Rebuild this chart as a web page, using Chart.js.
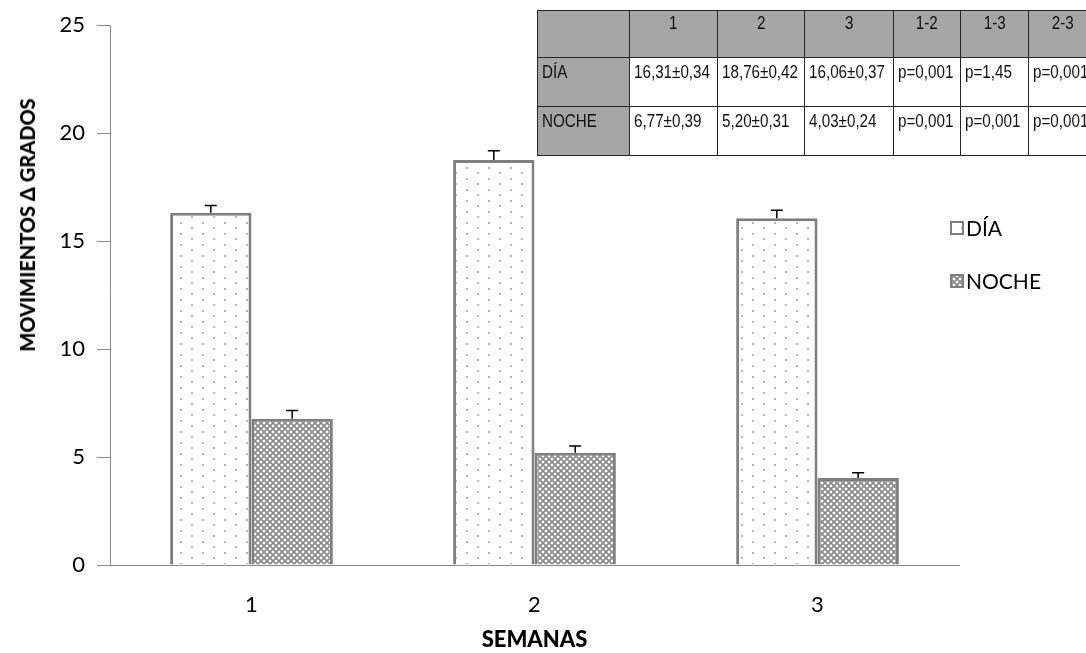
<!DOCTYPE html>
<html lang="es">
<head>
<meta charset="utf-8">
<title>Movimientos por semana</title>
<script src="https://cdn.jsdelivr.net/npm/chart.js@4/dist/chart.umd.min.js"></script>
<style>
  html, body { margin: 0; padding: 0; background: #fff; }
  #wrap { position: relative; width: 1086px; height: 653px; overflow: hidden; }
  #chart { position: absolute; left: 0; top: 0; }
  #ytitle {
    position: absolute; left: 27px; top: 225px;
    transform: translate(-50%, -50%) rotate(-90deg);
    font: 900 20px Lato, "Open Sans", sans-serif; color: #000; white-space: nowrap;
  }
  #tablebox { position: absolute; left: 537px; top: 10px; width: 570px; }
  table { border-collapse: collapse; font: 19px "Liberation Sans", Arial, sans-serif; color: #111; table-layout: fixed; }
  td { border: 1.5px solid #262626; vertical-align: top; padding: 0 0 0 4px; white-space: nowrap; background: #fff; overflow: hidden; line-height: 20px; }
  td span { display: inline-block; transform: scaleX(0.8); transform-origin: left top; }
  tr.head td { background: #a6a6a6; text-align: center; padding: 2px 0 0 0; height: 44px; }
  tr.head td span { transform-origin: center top; }
  tr.body td { padding-top: 4px; height: 44px; }
  td.rowname { background: #a6a6a6; }
</style>
</head>
<body>
<div id="wrap">
  <canvas id="chart" width="1086" height="653"></canvas>
  <div id="ytitle">MOVIMIENTOS Δ GRADOS</div>
  <div id="tablebox"><table id="stats"></table></div>
</div>
<script>
// Weeks and mean movement per period
const semanas = ['1', '2', '3'];
const dia = [16.31, 18.76, 16.06];
const noche = [6.77, 5.20, 4.03];
const diaErr = [0.34, 0.42, 0.37];
const nocheErr = [0.39, 0.31, 0.24];
const yTicks = [0, 5, 10, 15, 20, 25];

// Summary table contents
const tablaCabecera = ['', '1', '2', '3', '1-2', '1-3', '2-3'];
const pDia = ['p=0,001', 'p=1,45', 'p=0,001'];
const pNoche = ['p=0,001', 'p=0,001', 'p=0,001'];

const fmt = v => v.toFixed(2).replace('.', ',');

// Build the table from the arrays above
(function buildTable() {
  const widths = [92, 88, 87, 89, 67, 68, 68];
  const t = document.getElementById('stats');
  t.style.width = widths.reduce((a, b) => a + b, 0) + 'px';
  const cg = document.createElement('colgroup');
  widths.forEach(w => { const c = document.createElement('col'); c.style.width = w + 'px'; cg.appendChild(c); });
  t.appendChild(cg);
  const cell = (text, cls) => {
    const td = document.createElement('td');
    if (cls) td.className = cls;
    const sp = document.createElement('span'); sp.textContent = text; td.appendChild(sp);
    return td;
  };
  const head = document.createElement('tr'); head.className = 'head';
  tablaCabecera.forEach(h => head.appendChild(cell(h)));
  t.appendChild(head);
  const rows = [
    ['DÍA', dia, diaErr, pDia],
    ['NOCHE', noche, nocheErr, pNoche]
  ];
  rows.forEach(([name, vals, errs, ps]) => {
    const tr = document.createElement('tr'); tr.className = 'body';
    tr.appendChild(cell(name, 'rowname'));
    vals.forEach((v, i) => tr.appendChild(cell(fmt(v) + '±' + fmt(errs[i]))));
    ps.forEach(p => tr.appendChild(cell(p)));
    t.appendChild(tr);
  });
})();

// Fill patterns: sparse dots for day, lattice for night
function dotPattern(ctx) {
  const c = document.createElement('canvas'); c.width = 22; c.height = 11;
  const g = c.getContext('2d');
  g.fillStyle = '#ffffff'; g.fillRect(0, 0, 22, 11);
  g.fillStyle = '#a0a0a0';
  [[5, 3], [16, 8]].forEach(([x, y]) => { g.beginPath(); g.arc(x, y, 1, 0, Math.PI * 2); g.fill(); });
  return ctx.createPattern(c, 'repeat');
}
function latticePattern(ctx) {
  const s = 6;
  const c = document.createElement('canvas'); c.width = s; c.height = s;
  const g = c.getContext('2d');
  g.fillStyle = '#ffffff'; g.fillRect(0, 0, s, s);
  g.strokeStyle = '#8a8a8a'; g.lineWidth = 1.7;
  g.beginPath();
  g.moveTo(-1, -1); g.lineTo(s + 1, s + 1);
  g.moveTo(-1, s + 1); g.lineTo(s + 1, -1);
  g.stroke();
  return ctx.createPattern(c, 'repeat');
}

const ctx = document.getElementById('chart').getContext('2d');
const fillDia = dotPattern(ctx);
const fillNoche = latticePattern(ctx);

// Upward error bars with a cap
const errorBars = {
  id: 'errorBars',
  afterDatasetsDraw(chart) {
    const c = chart.ctx, y = chart.scales.y;
    const errs = [diaErr, nocheErr];
    chart.data.datasets.forEach((ds, di) => {
      const meta = chart.getDatasetMeta(di);
      meta.data.forEach((bar, i) => {
        const top = y.getPixelForValue(ds.data[i]);
        const end = y.getPixelForValue(ds.data[i] + errs[di][i]);
        c.save();
        c.strokeStyle = '#000'; c.lineWidth = 1.5;
        c.beginPath();
        c.moveTo(bar.x, top); c.lineTo(bar.x, end);
        c.moveTo(bar.x - 6, end); c.lineTo(bar.x + 6, end);
        c.stroke();
        c.restore();
      });
    });
  }
};

// Legend on the right side
const sideLegend = {
  id: 'sideLegend',
  afterDraw(chart) {
    const c = chart.ctx;
    const items = [['DÍA', fillDia, 228], ['NOCHE', fillNoche, 281]];
    c.save();
    items.forEach(([label, fill, yc]) => {
      c.fillStyle = fill;
      c.fillRect(951, yc - 6, 12, 12);
      c.strokeStyle = '#7f7f7f'; c.lineWidth = 2;
      c.strokeRect(951, yc - 6, 12, 12);
      c.fillStyle = '#000';
      c.font = '21px Lato, "Open Sans", sans-serif';
      c.textBaseline = 'middle';
      c.fillText(label, 966, yc + 1);
    });
    c.restore();
  }
};

new Chart(ctx, {
  type: 'bar',
  data: {
    labels: semanas,
    datasets: [
      { label: 'DÍA', data: dia, backgroundColor: fillDia, borderColor: '#7f7f7f', borderWidth: 3,
        categoryPercentage: 0.575, barPercentage: 1 },
      { label: 'NOCHE', data: noche, backgroundColor: fillNoche, borderColor: '#7f7f7f', borderWidth: 3,
        categoryPercentage: 0.575, barPercentage: 1 }
    ]
  },
  options: {
    responsive: false,
    animation: false,
    layout: { padding: { top: 23, right: 127, left: 0, bottom: 0 } },
    plugins: { legend: { display: false }, tooltip: { enabled: false } },
    scales: {
      x: {
        grid: { display: false, drawTicks: false },
        border: { display: true, color: '#8a8a8a', width: 1 },
        ticks: { color: '#000', padding: 27, font: { family: 'Lato', size: 22 } },
        title: { display: true, text: 'SEMANAS', color: '#000', font: { family: 'Lato', size: 22, weight: '900' }, padding: { top: 0, bottom: 0 } },
        afterFit(s) { s.height = 88; }
      },
      y: {
        min: 0, max: 25,
        afterBuildTicks(s) { s.ticks = yTicks.map(v => ({ value: v })); },
        grid: { drawOnChartArea: false, tickLength: 13, color: '#8a8a8a' },
        border: { display: true, color: '#8a8a8a', width: 1 },
        ticks: { color: '#000', padding: 12, font: { family: 'Lato', size: 22 } },
        afterFit(s) { s.width = 110; }
      }
    }
  },
  plugins: [errorBars, sideLegend]
});
</script>
</body>
</html>
